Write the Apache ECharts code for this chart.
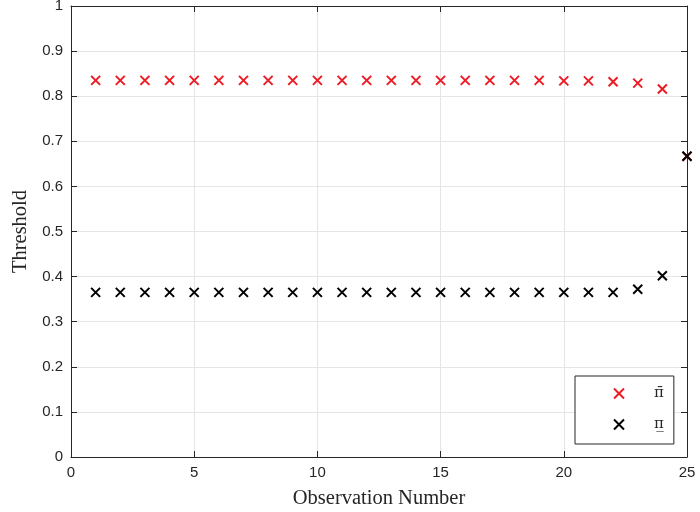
<!DOCTYPE html>
<html>
<head>
<meta charset="utf-8">
<script src="https://cdn.jsdelivr.net/npm/echarts@6/dist/echarts.min.js"></script>
<style>
  html, body { margin: 0; padding: 0; background: #fff; }
  #chart { width: 700px; height: 512px; }
</style>
</head>
<body>
<div id="chart"></div>
<script>
// Observation numbers and the two threshold series
const observations = [1,2,3,4,5,6,7,8,9,10,11,12,13,14,15,16,17,18,19,20,21,22,23,24,25];
const upperThreshold = [0.835,0.835,0.835,0.835,0.835,0.835,0.835,0.835,0.835,0.835,0.835,0.835,0.835,0.835,0.835,0.835,0.835,0.835,0.835,0.834,0.834,0.832,0.829,0.816,0.667];
const lowerThreshold = [0.365,0.365,0.365,0.365,0.365,0.365,0.365,0.365,0.365,0.365,0.365,0.365,0.365,0.365,0.365,0.365,0.365,0.365,0.365,0.365,0.365,0.365,0.372,0.402,0.667];
const seriesNames = ['\u03C0\u0304', '\u03C0\u0332'];
const xTicks = { min: 0, max: 25, interval: 5 };
const yTicks = { min: 0, max: 1, interval: 0.1 };

const crossPath = 'path://M0,0L10,10M10,0L0,10';
const axisColor = '#262626';
const gridColor = '#e5e5e5';
const tickFont = { color: axisColor, fontFamily: 'Liberation Sans, Arial, sans-serif', fontSize: 15 };
const nameFont = { fontFamily: 'Liberation Serif, serif', fontSize: 20.5, color: axisColor };

function pairs(ys) { return observations.map((x, i) => [x, ys[i]]); }

const chart = echarts.init(document.getElementById('chart'));
chart.setOption({
  backgroundColor: '#fff',
  animation: false,
  grid: { left: 71, right: 13, top: 6, bottom: 55, containLabel: false, outerBoundsMode: 'none' },
  legend: {
    orient: 'vertical',
    left: 575, top: 376,
    padding: [10, 10, 12, 38],
    itemGap: 16,
    itemWidth: 10, itemHeight: 10,
    backgroundColor: '#fff',
    borderColor: axisColor,
    borderWidth: 1,
    borderRadius: 0,
    textStyle: { fontFamily: 'DejaVu Serif, serif', fontSize: 15, color: axisColor, padding: [0, 0, 0, 25] },
    data: [
      { name: seriesNames[0], icon: crossPath, itemStyle: { color: 'transparent', borderColor: '#ed1c24', borderWidth: 2 } },
      { name: seriesNames[1], icon: crossPath, itemStyle: { color: 'transparent', borderColor: '#000', borderWidth: 2 } }
    ]
  },
  xAxis: [{
    type: 'value', min: xTicks.min, max: xTicks.max, interval: xTicks.interval,
    name: 'Observation Number', nameLocation: 'middle', nameGap: 31,
    nameTextStyle: nameFont,
    axisLine: { onZero: false, lineStyle: { color: axisColor, width: 1 } },
    axisTick: { inside: true, length: 6, lineStyle: { color: axisColor } },
    axisLabel: Object.assign({ margin: 8 }, tickFont),
    splitLine: { show: true, lineStyle: { color: gridColor, width: 1 } }
  }, {
    type: 'value', position: 'top', min: xTicks.min, max: xTicks.max, interval: xTicks.interval,
    axisLine: { show: true, onZero: false, lineStyle: { color: axisColor, width: 1 } },
    axisTick: { inside: true, length: 6, lineStyle: { color: axisColor } },
    axisLabel: { show: false }, splitLine: { show: false }
  }],
  yAxis: [{
    type: 'value', min: yTicks.min, max: yTicks.max, interval: yTicks.interval,
    name: 'Threshold', nameLocation: 'middle', nameGap: 38,
    nameTextStyle: nameFont,
    axisLine: { show: true, onZero: false, lineStyle: { color: axisColor, width: 1 } },
    axisTick: { show: true, inside: true, length: 6, lineStyle: { color: axisColor } },
    axisLabel: Object.assign({ margin: 8, formatter: v => (Math.round(v * 10) / 10).toString() }, tickFont),
    splitLine: { show: true, lineStyle: { color: gridColor, width: 1 } }
  }, {
    type: 'value', position: 'right', min: yTicks.min, max: yTicks.max, interval: yTicks.interval,
    axisLine: { show: true, onZero: false, lineStyle: { color: axisColor, width: 1 } },
    axisTick: { show: true, inside: true, length: 6, lineStyle: { color: axisColor } },
    axisLabel: { show: false }, splitLine: { show: false }
  }],
  series: [{
    name: seriesNames[0], type: 'scatter', symbol: crossPath, symbolSize: 9,
    itemStyle: { color: 'transparent', borderColor: '#ed1c24', borderWidth: 2, opacity: 1 },
    data: pairs(upperThreshold), z: 3
  }, {
    name: seriesNames[1], type: 'scatter', symbol: crossPath, symbolSize: 9,
    itemStyle: { color: 'transparent', borderColor: '#000', borderWidth: 2, opacity: 1 },
    data: pairs(lowerThreshold), z: 4
  }]
});
</script>
</body>
</html>
